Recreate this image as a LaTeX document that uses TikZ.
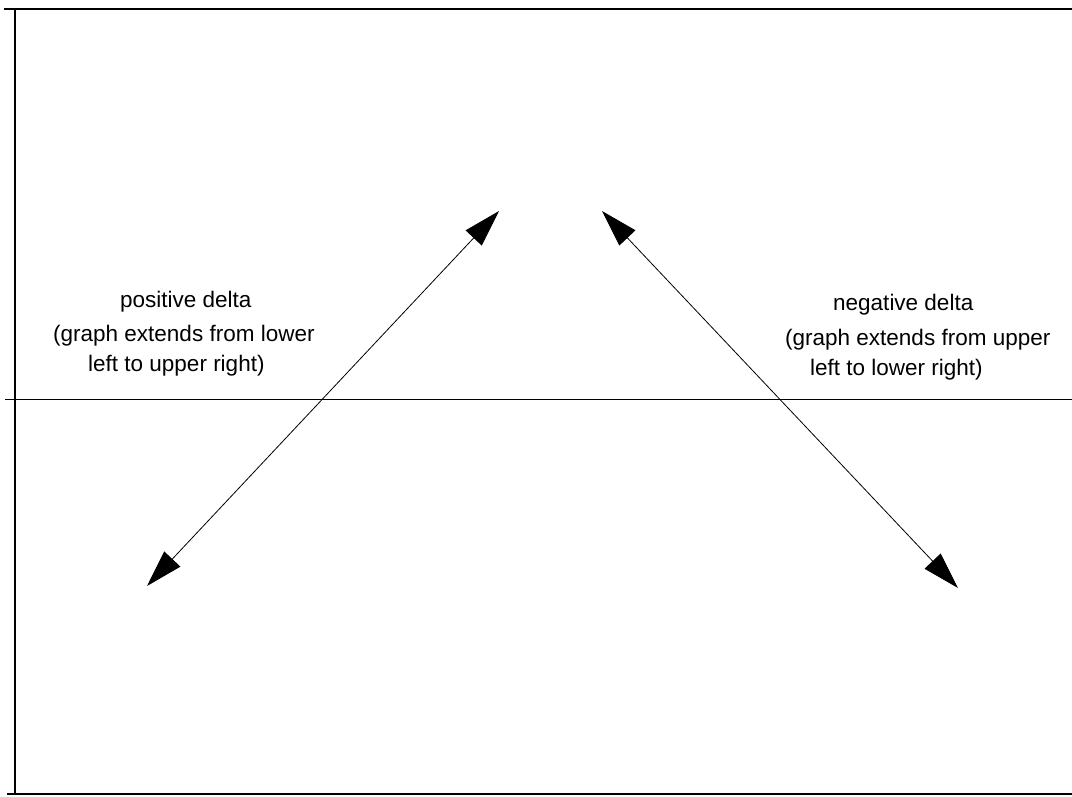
\documentclass[tikz,border=0pt]{standalone}
\usepackage{fontspec}
\setmainfont{Liberation Sans}
\usetikzlibrary{arrows.meta}
\tikzset{
  frame/.style={line width=1.3pt, black},
  axisline/.style={line width=0.8pt, black},
  dblarrow/.style={line width=0.8pt, {Triangle[length=37pt,width=22pt]}-{Triangle[length=37pt,width=22pt]}},
  lbl/.style={anchor=base west, inner sep=0pt, font=\fontsize{22.5}{26}\selectfont}
}
\begin{document}
\begin{tikzpicture}[x=1pt,y=-1pt]
\useasboundingbox (0,0) rectangle (1072,796);
% frame
\coordinate (tl) at (4,9);
\coordinate (tr) at (1072,9);
\coordinate (vt) at (15,9);
\coordinate (vb) at (15,795);
\coordinate (bl) at (7,794);
\coordinate (br) at (1072,794);
\coordinate (al) at (5,399);
\coordinate (ar) at (1072,399);
\draw[frame] (tl) -- (tr);
\draw[frame] (vt) -- (vb);
\draw[frame] (bl) -- (br);
\draw[axisline] (al) -- (ar);
% arrows
\coordinate (p1) at (147,586);
\coordinate (p2) at (499,211);
\coordinate (n1) at (602,211);
\coordinate (n2) at (958,588);
\draw[dblarrow] (p1) -- (p2);
\draw[dblarrow] (n1) -- (n2);
% labels
\node[lbl] (pa) at (120,307) {positive delta};
\node[lbl] (pb) at (53,341) {(graph extends from lower};
\node[lbl] (pc) at (88,371) {left to upper right)};
\node[lbl] (na) at (833,310) {negative delta};
\node[lbl] (nb) at (785,345) {(graph extends from upper};
\node[lbl] (nc) at (810,375) {left to lower right)};
\end{tikzpicture}
\end{document}
